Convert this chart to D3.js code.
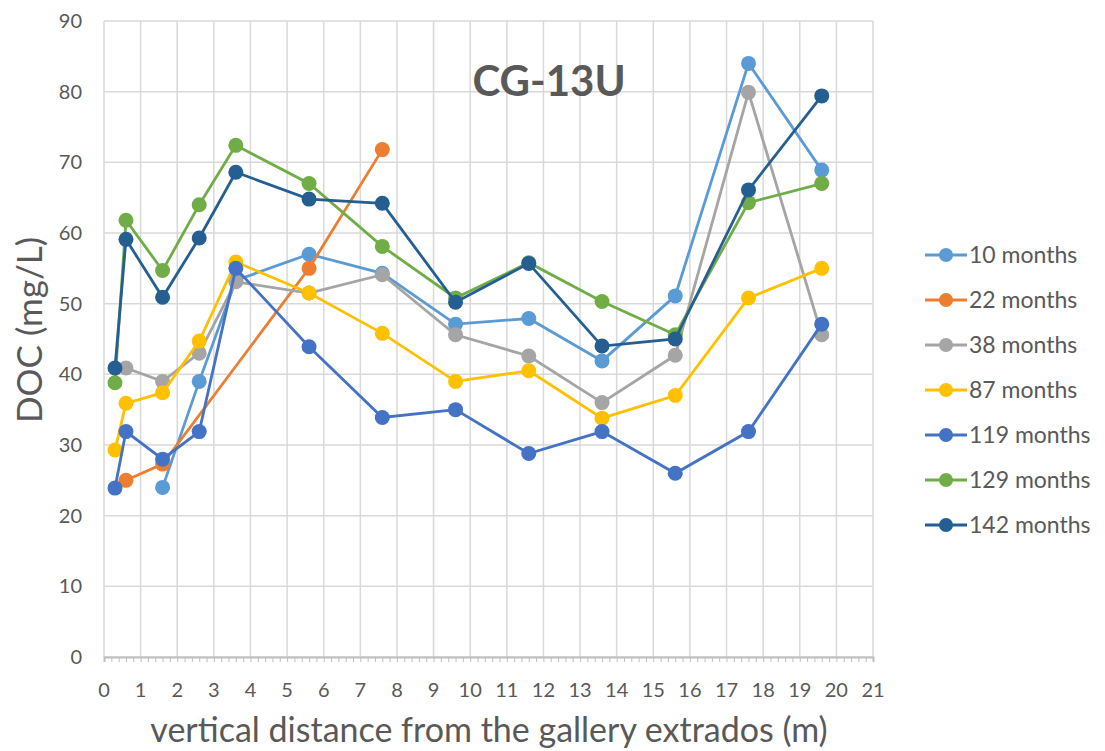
<!DOCTYPE html>
<html>
<head>
<meta charset="utf-8">
<script src="https://cdn.jsdelivr.net/npm/d3@7"></script>
<style>
  body { margin: 0; background: #fff; }
  svg { font-family: Lato, "Open Sans", sans-serif; }
</style>
</head>
<body>
<svg id="chart" width="1105" height="751"></svg>
<script>
// distances (m) where samples were taken
var depths = [0.3, 0.6, 1.6, 2.6, 3.6, 5.6, 7.6, 9.6, 11.6, 13.6, 15.6, 17.6, 19.6];

// DOC (mg/L) per campaign, null = no sample
var m10  = [null, null, 24, 39, 53.3, 57, 54.3, 47.1, 47.9, 41.9, 51.1, 84, 68.9];
var m22  = [null, 25, 27.3, null, null, 55, 71.8, null, null, null, null, null, null];
var m38  = [null, 40.9, 39, 43, 53.1, 51.5, 54.1, 45.6, 42.6, 36, 42.7, 79.9, 45.6];
var m87  = [29.3, 35.9, 37.4, 44.7, 55.9, 51.5, 45.8, 39, 40.5, 33.8, 37, 50.8, 55];
var m119 = [23.9, 31.9, 28, 31.9, 55, 43.9, 33.9, 35, 28.8, 31.9, 26, 31.9, 47.1];
var m129 = [38.8, 61.8, 54.7, 64, 72.4, 67, 58.1, 50.8, 55.8, 50.3, 45.6, 64.3, 67];
var m142 = [40.9, 59.1, 50.9, 59.3, 68.6, 64.8, 64.2, 50.2, 55.7, 44, 45, 66.1, 79.4];

var seriesNames  = ["10 months", "22 months", "38 months", "87 months", "119 months", "129 months", "142 months"];
var seriesValues = [m10, m22, m38, m87, m119, m129, m142];
var seriesColors = ["#5b9bd5", "#ed7d31", "#a5a5a5", "#ffc000", "#4472c4", "#70ad47", "#255e91"];

var xTicks = d3.range(0, 22, 1);
var yTicks = d3.range(0, 100, 10);

var svg = d3.select("#chart");
var pLeft = 104, pRight = 873, pTop = 21, pBottom = 657;

var x = d3.scaleLinear().domain([0, 21]).range([pLeft, pRight]);
var y = d3.scaleLinear().domain([0, 90]).range([pBottom, pTop]);

var grid = svg.append("g");
grid.selectAll(".vg").data(xTicks).enter().append("line")
  .attr("x1", d => x(d)).attr("x2", d => x(d))
  .attr("y1", pTop).attr("y2", pBottom)
  .attr("stroke", "#d9d9d9").attr("stroke-width", 1.5);
grid.selectAll(".hg").data(yTicks).enter().append("line")
  .attr("x1", pLeft).attr("x2", pRight)
  .attr("y1", d => y(d)).attr("y2", d => y(d))
  .attr("stroke", "#d9d9d9").attr("stroke-width", 1.5);

// x axis with minor ticks every 0.2
var xAxis = d3.axisBottom(x).tickValues(d3.range(0, 21.01, 0.2)).tickSize(5).tickFormat("");
var gx = svg.append("g").attr("transform", "translate(0," + pBottom + ")").call(xAxis);
gx.select(".domain").attr("stroke", "#bfbfbf").attr("stroke-width", 2);
gx.selectAll(".tick line").attr("stroke", "#bfbfbf").attr("stroke-width", 1);

svg.append("g").selectAll("text").data(xTicks).enter().append("text")
  .attr("x", d => x(d)).attr("y", 697)
  .attr("text-anchor", "middle")
  .attr("font-size", 20).attr("fill", "#595959")
  .text(d => d);

svg.append("g").selectAll("text").data(yTicks).enter().append("text")
  .attr("x", 82).attr("y", d => y(d) + 7)
  .attr("text-anchor", "end")
  .attr("font-size", 20).attr("fill", "#595959")
  .text(d => d);

// series
seriesValues.forEach(function (vals, i) {
  var pts = depths.map((d, j) => [d, vals[j]]).filter(p => p[1] != null);
  var line = d3.line().x(p => x(p[0])).y(p => y(p[1]));
  svg.append("path").datum(pts)
    .attr("d", line)
    .attr("fill", "none")
    .attr("stroke", seriesColors[i])
    .attr("stroke-width", 2.8);
  svg.append("g").selectAll("circle").data(pts).enter().append("circle")
    .attr("cx", p => x(p[0])).attr("cy", p => y(p[1]))
    .attr("r", 7.5).attr("fill", seriesColors[i]);
});

// title
svg.append("text").attr("x", 549).attr("y", 96)
  .attr("text-anchor", "middle")
  .attr("font-size", 42).attr("font-weight", "bold").attr("fill", "#595959")
  .text("CG-13U");

// legend
var lg = svg.append("g");
seriesNames.forEach(function (name, i) {
  var ly = 255 + i * 45;
  lg.append("line").attr("x1", 925).attr("x2", 967).attr("y1", ly).attr("y2", ly)
    .attr("stroke", seriesColors[i]).attr("stroke-width", 2.8);
  lg.append("circle").attr("cx", 946).attr("cy", ly).attr("r", 7).attr("fill", seriesColors[i]);
  lg.append("text").attr("x", 969).attr("y", ly + 8)
    .attr("font-size", 23).attr("fill", "#595959").text(name);
});

// axis titles
svg.append("text")
  .attr("transform", "translate(42," + 330 + ") rotate(-90)")
  .attr("text-anchor", "middle")
  .attr("font-size", 35).attr("fill", "#595959")
  .text("DOC (mg/L)");

svg.append("text").attr("x", 489).attr("y", 742)
  .attr("text-anchor", "middle")
  .attr("font-size", 34).attr("fill", "#595959")
  .text("vertical distance from the gallery extrados (m)");
</script>
</body>
</html>
